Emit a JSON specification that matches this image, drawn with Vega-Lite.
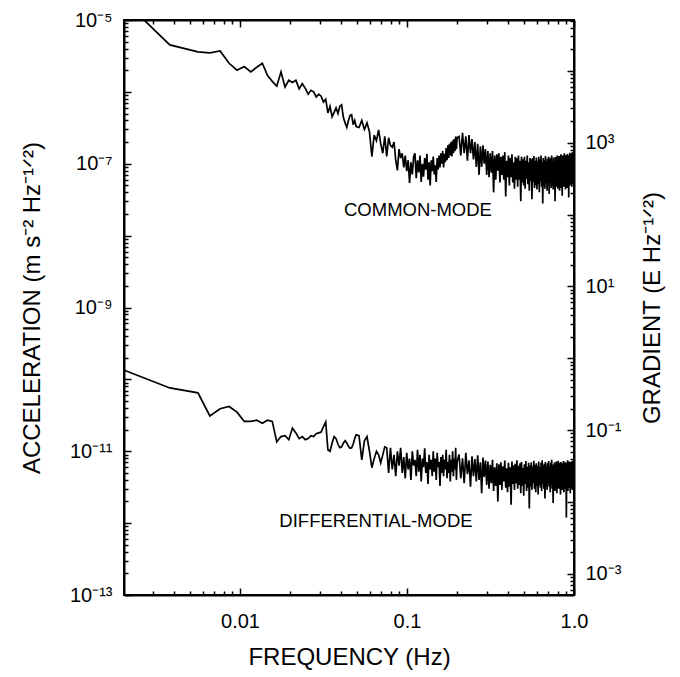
{
  "$schema": "https://vega.github.io/schema/vega-lite/v6.json",
  "width": 450,
  "height": 575,
  "autosize": {"type": "none"},
  "padding": {"left": 124, "top": 20, "right": 106, "bottom": 82},
  "background": "white",
  "config": {
    "view": {"stroke": "black", "strokeWidth": 2},
    "font": "Liberation Sans",
    "axis": {
      "domainColor": "black", "domainWidth": 2, "tickColor": "black", "tickWidth": 1.5,
      "labelColor": "black", "titleColor": "black", "labelFont": "Liberation Sans", "titleFont": "Liberation Sans",
      "labelFontSize": 20, "titleFontSize": 24, "titleFontWeight": "normal", "grid": false,
      "labelOverlap": false, "labelFlush": false, "labelBound": false
    }
  },
  "datasets": {
    "psd": [
      {"f":0.002,"c":1.9e-5,"d":1.36e-10},
      {"f":0.0038,"c":4.5e-6,"d":7.6e-11},
      {"f":0.0056,"c":3.6e-6,"d":6.5e-11},
      {"f":0.0066,"c":3.5e-6,"d":3.1e-11},
      {"f":0.0076,"c":3.7e-6,"d":3.9e-11},
      {"f":0.0086,"c":2.5e-6,"d":4.2e-11},
      {"f":0.0096,"c":2.0e-6,"d":3.5e-11},
      {"f":0.0106,"c":2.25e-6,"d":2.6e-11},
      {"f":0.0116,"c":1.9e-6,"d":2.6e-11},
      {"f":0.0126,"c":2.2e-6,"d":2.7e-11},
      {"f":0.0136,"c":2.5e-6,"d":2.45e-11},
      {"f":0.0146,"c":1.7e-6,"d":2.7e-11},
      {"f":0.0156,"c":1.4e-6,"d":2.6e-11},
      {"f":0.0166,"c":1.2e-6,"d":1.35e-11},
      {"f":0.0176,"c":1.9e-6,"d":1.6e-11},
      {"f":0.0186,"c":1.17e-6,"d":1.65e-11},
      {"f":0.0196,"c":1.45e-6,"d":1.45e-11},
      {"f":0.0206,"c":1.35e-6,"d":2.1e-11},
      {"f":0.0216,"c":1.45e-6,"d":1.8e-11},
      {"f":0.0226,"c":1.1e-6,"d":1.5e-11},
      {"f":0.0236,"c":1.3e-6,"d":1.6e-11},
      {"f":0.0246,"c":1.12e-6,"d":1.45e-11},
      {"f":0.0256,"c":9.3e-7,"d":1.5e-11},
      {"f":0.0266,"c":1.05e-6,"d":1.65e-11},
      {"f":0.0276,"c":1.0e-6,"d":1.6e-11},
      {"f":0.0286,"c":8.5e-7,"d":1.75e-11},
      {"f":0.0296,"c":9.3e-7,"d":1.8e-11},
      {"f":0.0306,"c":8.7e-7,"d":1.85e-11},
      {"f":0.0316,"c":7.2e-7,"d":2.2e-11},
      {"f":0.0326,"c":7.9e-7,"d":2.55e-11},
      {"f":0.0336,"c":5.1e-7,"d":1.05e-11},
      {"f":0.0346,"c":6.3e-7,"d":1.0e-11},
      {"f":0.0356,"c":4.5e-7,"d":1.3e-11},
      {"f":0.0366,"c":5.2e-7,"d":1.6e-11},
      {"f":0.0376,"c":6.0e-7,"d":1.5e-11},
      {"f":0.0386,"c":5.0e-7,"d":1.25e-11},
      {"f":0.0396,"c":6.3e-7,"d":1.12e-11},
      {"f":0.0406,"c":6.6e-7,"d":1.15e-11},
      {"f":0.0416,"c":4.4e-7,"d":1.3e-11},
      {"f":0.0426,"c":3.7e-7,"d":1.4e-11},
      {"f":0.0436,"c":3.2e-7,"d":1.3e-11},
      {"f":0.0446,"c":4.0e-7,"d":1.17e-11},
      {"f":0.0456,"c":4.7e-7,"d":1.1e-11},
      {"f":0.0466,"c":4.8e-7,"d":1.12e-11},
      {"f":0.0476,"c":3.5e-7,"d":1.25e-11},
      {"f":0.0486,"c":4.0e-7,"d":1.5e-11},
      {"f":0.0496,"c":3.3e-7,"d":1.7e-11},
      {"f":0.0516,"c":3.2e-7,"d":1.65e-11},
      {"f":0.0536,"c":4.0e-7,"d":7.6e-12},
      {"f":0.0556,"c":3.0e-7,"d":1.4e-11},
      {"f":0.0576,"c":3.7e-7,"d":1.6e-11},
      {"f":0.0596,"c":2.8e-7,"d":1.0e-11},
      {"f":0.0616,"c":1.26e-7,"d":5.9e-12},
      {"f":0.0636,"c":2.5e-7,"d":7.9e-12},
      {"f":0.0656,"c":2.1e-7,"d":1.0e-11},
      {"f":0.0676,"c":2.95e-7,"d":8.9e-12},
      {"f":0.0696,"c":1.9e-7,"d":6.9e-12},
      {"f":0.0716,"c":1.4e-7,"d":8.9e-12},
      {"f":0.0736,"c":2.4e-7,"d":1.15e-11},
      {"f":0.0756,"c":1.26e-7,"d":1.12e-11},
      {"f":0.0776,"c":2.3e-7,"d":5.0e-12},
      {"f":0.0796,"c":1.8e-7,"d":1.12e-11},
      {"f":0.0816,"c":1.7e-7,"d":5.6e-12},
      {"f":0.0836,"c":2.0e-7,"d":8.9e-12},
      {"f":0.0856,"c":1.12e-7,"d":4.5e-12},
      {"f":0.0876,"c":8.1e-8,"d":1.0e-11},
      {"f":0.0896,"c":1.6e-7,"d":6.3e-12},
      {"f":0.0916,"c":1.2e-7,"d":1.12e-11},
      {"f":0.0936,"c":1.4e-7,"d":5.0e-12},
      {"f":0.0956,"c":8.9e-8,"d":8.3e-12},
      {"f":0.0976,"c":1.3e-7,"d":4.2e-12},
      {"f":0.0996,"c":7.9e-8,"d":9.5e-12},
      {"f":0.1016,"c":1.12e-7,"d":5.6e-12},
      {"f":0.1036,"c":5.4e-8,"d":7.9e-12},
      {"f":0.1056,"c":1.05e-7,"d":4.0e-12},
      {"f":0.1076,"c":7.1e-8,"d":1.0e-11},
      {"f":0.1096,"c":1.26e-7,"d":6.3e-12},
      {"f":0.1116,"c":1.4e-7,"d":7.6e-12},
      {"f":0.1136,"c":6.3e-8,"d":4.5e-12},
      {"f":0.1156,"c":1.12e-7,"d":1.05e-11},
      {"f":0.1176,"c":7.6e-8,"d":5.2e-12},
      {"f":0.1196,"c":1.3e-7,"d":8.9e-12},
      {"f":0.1216,"c":5.6e-8,"d":3.8e-12},
      {"f":0.1236,"c":1.0e-7,"d":7.9e-12},
      {"f":0.1256,"c":6.6e-8,"d":6.0e-12},
      {"f":0.1276,"c":1.2e-7,"d":1.1e-11},
      {"f":0.1296,"c":8.3e-8,"d":5.0e-12},
      {"f":0.1316,"c":1.38e-7,"d":7.1e-12},
      {"f":0.1336,"c":6.0e-8,"d":3.5e-12},
      {"f":0.1356,"c":1.05e-7,"d":8.9e-12},
      {"f":0.1376,"c":5.0e-8,"d":5.6e-12},
      {"f":0.1396,"c":1.12e-7,"d":7.6e-12},
      {"f":0.1416,"c":7.9e-8,"d":4.5e-12},
      {"f":0.1436,"c":1.26e-7,"d":1.0e-11},
      {"f":0.1456,"c":7.1e-8,"d":5.2e-12},
      {"f":0.1476,"c":9.5e-8,"d":7.9e-12},
      {"f":0.1496,"c":5.6e-8,"d":4.0e-12},
      {"f":0.1516,"c":1.2e-7,"d":9.5e-12},
      {"f":0.1536,"c":8.3e-8,"d":6.0e-12},
      {"f":0.1556,"c":1.3e-7,"d":7.1e-12},
      {"f":0.1576,"c":8.9e-8,"d":3.3e-12},
      {"f":0.1596,"c":1.4e-7,"d":8.3e-12},
      {"f":0.1616,"c":1.0e-7,"d":5.0e-12},
      {"f":0.1636,"c":1.5e-7,"d":8.9e-12},
      {"f":0.1656,"c":8.9e-8,"d":4.5e-12},
      {"f":0.1676,"c":1.38e-7,"d":7.6e-12},
      {"f":0.1696,"c":1.05e-7,"d":5.6e-12},
      {"f":0.1716,"c":1.66e-7,"d":1.05e-11},
      {"f":0.1736,"c":1.12e-7,"d":4.2e-12},
      {"f":0.1756,"c":1.8e-7,"d":7.1e-12},
      {"f":0.1776,"c":1.2e-7,"d":5.0e-12},
      {"f":0.1796,"c":1.9e-7,"d":8.9e-12},
      {"f":0.1816,"c":1.3e-7,"d":3.8e-12},
      {"f":0.1836,"c":2.0e-7,"d":7.6e-12},
      {"f":0.1856,"c":1.26e-7,"d":5.2e-12},
      {"f":0.1876,"c":2.1e-7,"d":1.0e-11},
      {"f":0.1896,"c":1.4e-7,"d":4.5e-12},
      {"f":0.1916,"c":2.2e-7,"d":7.9e-12},
      {"f":0.1936,"c":1.5e-7,"d":5.6e-12},
      {"f":0.1956,"c":2.4e-7,"d":1.12e-11},
      {"f":0.1976,"c":1.6e-7,"d":4.0e-12},
      {"f":0.1996,"c":2.3e-7,"d":7.1e-12},
      {"f":0.205,"c":2.4e-7,"d":9.0e-12},
      {"f":0.21,"c":1.3e-7,"d":4.2e-12},
      {"f":0.215,"c":2.7e-7,"d":8.0e-12},
      {"f":0.22,"c":1.4e-7,"d":3.6e-12},
      {"f":0.225,"c":2.4e-7,"d":9.5e-12},
      {"f":0.23,"c":1.1e-7,"d":4.8e-12},
      {"f":0.235,"c":2.5e-7,"d":7.5e-12},
      {"f":0.24,"c":1.4e-7,"d":3.2e-12},
      {"f":0.245,"c":2.2e-7,"d":8.5e-12},
      {"f":0.25,"c":1.15e-7,"d":4.5e-12},
      {"f":0.255,"c":2.0e-7,"d":7.8e-12},
      {"f":0.26,"c":9.0e-8,"d":3.8e-12},
      {"f":0.265,"c":1.9e-7,"d":8.8e-12},
      {"f":0.27,"c":7.0e-8,"d":4.0e-12},
      {"f":0.275,"c":1.75e-7,"d":7.0e-12},
      {"f":0.28,"c":9.0e-8,"d":2.6e-12},
      {"f":0.285,"c":1.8e-7,"d":8.2e-12},
      {"f":0.29,"c":1.0e-7,"d":4.4e-12},
      {"f":0.295,"c":1.6e-7,"d":7.4e-12},
      {"f":0.3,"c":7.0e-8,"d":3.4e-12},
      {"f":0.305,"c":1.5e-7,"d":7.2e-12},
      {"f":0.31,"c":6.5e-8,"d":3.0e-12},
      {"f":0.315,"c":1.4e-7,"d":6.5e-12},
      {"f":0.32,"c":7.5e-8,"d":3.6e-12},
      {"f":0.325,"c":1.5e-7,"d":7.6e-12},
      {"f":0.33,"c":4.0e-8,"d":2.8e-12},
      {"f":0.335,"c":1.3e-7,"d":6.0e-12},
      {"f":0.34,"c":6.0e-8,"d":3.3e-12},
      {"f":0.345,"c":1.35e-7,"d":6.8e-12},
      {"f":0.35,"c":8.0e-8,"d":2.0e-12},
      {"f":0.355,"c":1.4e-7,"d":6.6e-12},
      {"f":0.36,"c":5.5e-8,"d":3.4e-12},
      {"f":0.365,"c":1.25e-7,"d":7.0e-12},
      {"f":0.37,"c":7.0e-8,"d":2.9e-12},
      {"f":0.375,"c":1.3e-7,"d":6.2e-12},
      {"f":0.38,"c":6.0e-8,"d":3.8e-12},
      {"f":0.385,"c":1.45e-7,"d":7.4e-12},
      {"f":0.39,"c":3.5e-8,"d":3.1e-12},
      {"f":0.395,"c":1.1e-7,"d":5.8e-12},
      {"f":0.4,"c":6.5e-8,"d":2.7e-12},
      {"f":0.405,"c":1.3e-7,"d":6.9e-12},
      {"f":0.41,"c":5.0e-8,"d":3.2e-12},
      {"f":0.415,"c":1.2e-7,"d":6.0e-12},
      {"f":0.42,"c":6.5e-8,"d":1.8e-12},
      {"f":0.425,"c":1.35e-7,"d":7.2e-12},
      {"f":0.43,"c":5.5e-8,"d":3.5e-12},
      {"f":0.435,"c":1.05e-7,"d":6.4e-12},
      {"f":0.44,"c":4.5e-8,"d":2.9e-12},
      {"f":0.445,"c":1.25e-7,"d":6.7e-12},
      {"f":0.45,"c":6.0e-8,"d":3.6e-12},
      {"f":0.455,"c":1.2e-7,"d":7.5e-12},
      {"f":0.46,"c":4.8e-8,"d":3.0e-12},
      {"f":0.465,"c":1.3e-7,"d":6.3e-12},
      {"f":0.47,"c":6.0e-8,"d":3.4e-12},
      {"f":0.475,"c":1.1e-7,"d":6.8e-12},
      {"f":0.48,"c":3.0e-8,"d":2.6e-12},
      {"f":0.485,"c":1.25e-7,"d":7.1e-12},
      {"f":0.49,"c":5.5e-8,"d":3.3e-12},
      {"f":0.495,"c":1.15e-7,"d":5.9e-12},
      {"f":0.5,"c":5.0e-8,"d":2.4e-12},
      {"f":0.505,"c":1.25e-7,"d":6.6e-12},
      {"f":0.51,"c":4.5e-8,"d":3.5e-12},
      {"f":0.515,"c":1.1e-7,"d":7.3e-12},
      {"f":0.52,"c":6.2e-8,"d":2.8e-12},
      {"f":0.525,"c":1.3e-7,"d":6.1e-12},
      {"f":0.53,"c":5.2e-8,"d":3.1e-12},
      {"f":0.535,"c":1.05e-7,"d":6.9e-12},
      {"f":0.54,"c":4.2e-8,"d":1.6e-12},
      {"f":0.545,"c":1.2e-7,"d":6.4e-12},
      {"f":0.55,"c":5.8e-8,"d":3.2e-12},
      {"f":0.555,"c":1.15e-7,"d":7.0e-12},
      {"f":0.56,"c":3.2e-8,"d":2.9e-12},
      {"f":0.565,"c":1.2e-7,"d":6.2e-12},
      {"f":0.57,"c":5.5e-8,"d":3.6e-12},
      {"f":0.575,"c":1.28e-7,"d":7.4e-12},
      {"f":0.58,"c":4.6e-8,"d":3.0e-12},
      {"f":0.585,"c":1.1e-7,"d":6.5e-12},
      {"f":0.59,"c":5.0e-8,"d":2.7e-12},
      {"f":0.595,"c":1.22e-7,"d":6.8e-12},
      {"f":0.6,"c":4.4e-8,"d":3.3e-12},
      {"f":0.605,"c":1.1e-7,"d":6.3e-12},
      {"f":0.61,"c":5.2e-8,"d":2.5e-12},
      {"f":0.615,"c":1.25e-7,"d":7.2e-12},
      {"f":0.62,"c":4.0e-8,"d":3.4e-12},
      {"f":0.625,"c":1.15e-7,"d":6.0e-12},
      {"f":0.63,"c":5.6e-8,"d":3.1e-12},
      {"f":0.635,"c":1.3e-7,"d":6.9e-12},
      {"f":0.64,"c":4.8e-8,"d":2.8e-12},
      {"f":0.645,"c":1.05e-7,"d":7.5e-12},
      {"f":0.65,"c":2.8e-8,"d":3.5e-12},
      {"f":0.655,"c":1.2e-7,"d":6.4e-12},
      {"f":0.66,"c":5.0e-8,"d":3.0e-12},
      {"f":0.665,"c":1.12e-7,"d":6.7e-12},
      {"f":0.67,"c":4.5e-8,"d":2.2e-12},
      {"f":0.675,"c":1.28e-7,"d":7.1e-12},
      {"f":0.68,"c":5.4e-8,"d":3.3e-12},
      {"f":0.685,"c":1.08e-7,"d":6.2e-12},
      {"f":0.69,"c":4.2e-8,"d":2.9e-12},
      {"f":0.695,"c":1.18e-7,"d":6.8e-12},
      {"f":0.7,"c":5.2e-8,"d":3.6e-12},
      {"f":0.705,"c":1.25e-7,"d":7.3e-12},
      {"f":0.71,"c":3.8e-8,"d":3.2e-12},
      {"f":0.715,"c":1.15e-7,"d":6.1e-12},
      {"f":0.72,"c":5.5e-8,"d":2.7e-12},
      {"f":0.725,"c":1.2e-7,"d":6.9e-12},
      {"f":0.73,"c":4.6e-8,"d":3.5e-12},
      {"f":0.735,"c":1.3e-7,"d":7.6e-12},
      {"f":0.74,"c":5.0e-8,"d":3.0e-12},
      {"f":0.745,"c":1.1e-7,"d":6.3e-12},
      {"f":0.75,"c":4.4e-8,"d":1.9e-12},
      {"f":0.755,"c":1.22e-7,"d":6.6e-12},
      {"f":0.76,"c":5.2e-8,"d":3.4e-12},
      {"f":0.765,"c":1.08e-7,"d":7.0e-12},
      {"f":0.77,"c":3.0e-8,"d":2.8e-12},
      {"f":0.775,"c":1.25e-7,"d":6.4e-12},
      {"f":0.78,"c":5.6e-8,"d":3.1e-12},
      {"f":0.785,"c":1.15e-7,"d":7.2e-12},
      {"f":0.79,"c":4.8e-8,"d":2.6e-12},
      {"f":0.795,"c":1.3e-7,"d":6.7e-12},
      {"f":0.8,"c":4.5e-8,"d":3.5e-12},
      {"f":0.805,"c":1.18e-7,"d":7.4e-12},
      {"f":0.81,"c":5.4e-8,"d":3.0e-12},
      {"f":0.815,"c":1.28e-7,"d":6.5e-12},
      {"f":0.82,"c":4.2e-8,"d":3.3e-12},
      {"f":0.825,"c":1.12e-7,"d":6.9e-12},
      {"f":0.83,"c":5.0e-8,"d":2.5e-12},
      {"f":0.835,"c":1.35e-7,"d":7.1e-12},
      {"f":0.84,"c":4.6e-8,"d":3.4e-12},
      {"f":0.845,"c":1.2e-7,"d":6.2e-12},
      {"f":0.85,"c":3.6e-8,"d":2.9e-12},
      {"f":0.855,"c":1.3e-7,"d":6.8e-12},
      {"f":0.86,"c":5.5e-8,"d":3.2e-12},
      {"f":0.865,"c":1.15e-7,"d":7.3e-12},
      {"f":0.87,"c":4.8e-8,"d":2.7e-12},
      {"f":0.875,"c":1.4e-7,"d":6.6e-12},
      {"f":0.88,"c":5.2e-8,"d":3.5e-12},
      {"f":0.885,"c":1.22e-7,"d":7.0e-12},
      {"f":0.89,"c":4.4e-8,"d":3.0e-12},
      {"f":0.895,"c":1.32e-7,"d":6.4e-12},
      {"f":0.9,"c":5.6e-8,"d":1.2e-12},
      {"f":0.905,"c":1.25e-7,"d":6.9e-12},
      {"f":0.91,"c":4.6e-8,"d":3.3e-12},
      {"f":0.915,"c":1.38e-7,"d":7.5e-12},
      {"f":0.92,"c":5.4e-8,"d":2.8e-12},
      {"f":0.925,"c":1.2e-7,"d":6.5e-12},
      {"f":0.93,"c":3.4e-8,"d":3.1e-12},
      {"f":0.935,"c":1.3e-7,"d":7.2e-12},
      {"f":0.94,"c":5.8e-8,"d":3.4e-12},
      {"f":0.945,"c":1.42e-7,"d":6.7e-12},
      {"f":0.95,"c":5.0e-8,"d":2.6e-12},
      {"f":0.955,"c":1.35e-7,"d":7.1e-12},
      {"f":0.96,"c":5.5e-8,"d":3.0e-12},
      {"f":0.965,"c":1.28e-7,"d":6.3e-12},
      {"f":0.97,"c":4.8e-8,"d":3.5e-12},
      {"f":0.975,"c":1.45e-7,"d":7.4e-12},
      {"f":0.98,"c":6.0e-8,"d":2.9e-12},
      {"f":0.985,"c":1.3e-7,"d":6.8e-12},
      {"f":0.99,"c":5.2e-8,"d":3.2e-12},
      {"f":0.995,"c":1.4e-7,"d":7.0e-12},
      {"f":1.0,"c":6.5e-8,"d":3.6e-12}
    ],
    "labels": [
      {"f":0.1163,"a":2.27e-8,"t":"COMMON-MODE"},
      {"f":0.0652,"a":1.08e-12,"t":"DIFFERENTIAL-MODE"}
    ],
    "gradientAxis": [{"f":0.01,"g":1}]
  },
  "layer": [
    {
      "encoding": {
        "x": {
          "field": "f", "type": "quantitative",
          "scale": {"type": "log", "domain": [0.00202, 1], "nice": false},
          "axis": {
            "orient": "bottom",
            "values": [0.003,0.004,0.005,0.006,0.007,0.008,0.009,0.01,0.02,0.03,0.04,0.05,0.06,0.07,0.08,0.09,0.1,0.2,0.3,0.4,0.5,0.6,0.7,0.8,0.9,1],
            "tickSize": {"condition": {"test": "abs(log(datum.value)/LN10-round(log(datum.value)/LN10))<0.001", "value": -7}, "value": -4},
            "labelExpr": "datum.value==0.01?'0.01':datum.value==0.1?'0.1':datum.value==1?'1.0':''",
            "labelPadding": 23,
            "title": "FREQUENCY (Hz)",
            "titlePadding": 11
          }
        },
        "y": {
          "field": "a", "type": "quantitative",
          "scale": {"type": "log", "domain": [1e-13, 1e-5], "nice": false},
          "axis": {
            "orient": "left",
            "values": [1e-13,2e-13,3e-13,4e-13,5e-13,6e-13,7e-13,8e-13,9e-13,1e-12,2e-12,3e-12,4e-12,5e-12,6e-12,7e-12,8e-12,9e-12,1e-11,2e-11,3e-11,4e-11,5e-11,6e-11,7e-11,8e-11,9e-11,1e-10,2e-10,3e-10,4e-10,5e-10,6e-10,7e-10,8e-10,9e-10,1e-9,2e-9,3e-9,4e-9,5e-9,6e-9,7e-9,8e-9,9e-9,1e-8,2e-8,3e-8,4e-8,5e-8,6e-8,7e-8,8e-8,9e-8,1e-7,2e-7,3e-7,4e-7,5e-7,6e-7,7e-7,8e-7,9e-7,1e-6,2e-6,3e-6,4e-6,5e-6,6e-6,7e-6,8e-6,9e-6,1e-5],
            "tickSize": {"condition": {"test": "abs(log(datum.value)/LN10-round(log(datum.value)/LN10))<0.001", "value": -7}, "value": -4},
            "labelExpr": "datum.value==1e-13?'10⁻¹³':datum.value==1e-11?'10⁻¹¹':datum.value==1e-9?'10⁻⁹':datum.value==1e-7?'10⁻⁷':datum.value==1e-5?'10⁻⁵':''",
            "labelPadding": 19,
            "title": "ACCELERATION (m s⁻² Hz⁻¹ᐟ²)",
            "titlePadding": 25
          }
        }
      },
      "layer": [
        {
          "data": {"name": "psd"},
          "transform": [{"fold": ["c", "d"], "as": ["series", "a"]}],
          "mark": {"type": "line", "color": "black", "strokeWidth": 1.7, "clip": true},
          "encoding": {"detail": {"field": "series", "type": "nominal"}}
        },
        {
          "data": {"name": "labels"},
          "mark": {"type": "text", "font": "Liberation Sans", "fontSize": 18.5, "color": "black", "align": "center", "baseline": "middle"},
          "encoding": {"text": {"field": "t"}}
        }
      ]
    },
    {
      "data": {"name": "gradientAxis"},
      "mark": {"type": "point", "opacity": 0},
      "encoding": {
        "x": {
          "field": "f", "type": "quantitative",
          "scale": {"type": "log", "domain": [0.00202, 1], "nice": false},
          "axis": {
            "orient": "top",
            "values": [0.003,0.004,0.005,0.006,0.007,0.008,0.009,0.01,0.02,0.03,0.04,0.05,0.06,0.07,0.08,0.09,0.1,0.2,0.3,0.4,0.5,0.6,0.7,0.8,0.9,1],
            "tickSize": {"condition": {"test": "abs(log(datum.value)/LN10-round(log(datum.value)/LN10))<0.001", "value": -7}, "value": -4},
            "labels": false,
            "title": null
          }
        },
        "y": {
          "field": "g", "type": "quantitative",
          "scale": {"type": "log", "domain": [5.088e-4, 5.089e4], "nice": false},
          "axis": {
            "orient": "right",
            "values": [6e-4,7e-4,8e-4,9e-4,1e-3,2e-3,3e-3,4e-3,5e-3,6e-3,7e-3,8e-3,9e-3,1e-2,2e-2,3e-2,4e-2,5e-2,6e-2,7e-2,8e-2,9e-2,1e-1,2e-1,3e-1,4e-1,5e-1,6e-1,7e-1,8e-1,9e-1,1,2,3,4,5,6,7,8,9,10,20,30,40,50,60,70,80,90,100,200,300,400,500,600,700,800,900,1000,2000,3000,4000,5000,6000,7000,8000,9000,10000,20000,30000,40000,50000],
            "tickSize": {"condition": {"test": "abs(log(datum.value)/LN10-round(log(datum.value)/LN10))<0.001", "value": -7}, "value": -4},
            "labelExpr": "datum.value==1e-3?'10⁻³':datum.value==1e-1?'10⁻¹':datum.value==10?'10¹':datum.value==1000?'10³':''",
            "labelPadding": 18,
            "title": "GRADIENT (E Hz⁻¹ᐟ²)",
            "titleAngle": 270,
            "titlePadding": 44
          }
        }
      }
    }
  ],
  "resolve": {"scale": {"x": "independent", "y": "independent"}}
}
